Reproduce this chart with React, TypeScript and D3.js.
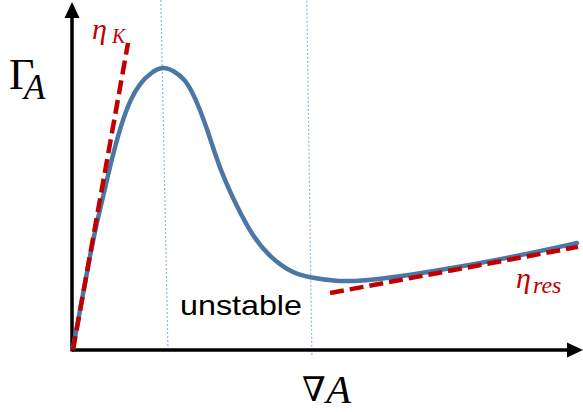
import React, { useRef, useEffect } from "react";
import * as d3 from "d3";

// flow curve (x: gradient, y: stress), both on a 0..100 scale
const curveX = [0, 1.78, 3.37, 4.75, 5.94, 7.72, 9.5, 11.29, 13.27, 15.45, 17.82, 20.0, 22.18, 24.16, 26.53, 29.11, 32.48, 35.64, 39.01, 42.97, 46.93, 52.87, 57.43, 64.75, 74.06, 87.13, 99.8];
const curveY = [0.58, 14.49, 27.54, 37.1, 44.35, 55.65, 65.22, 72.46, 77.39, 80.43, 82.3, 80.87, 78.55, 73.33, 64.35, 52.17, 41.45, 32.75, 26.96, 22.61, 20.9, 19.8, 20.1, 21.3, 23.48, 26.96, 31.01];

// the two asymptote lines (start / end points)
const etaKX = [0, 10.9];
const etaKY = [0, 89.0];
const etaResX = [50.9, 100];
const etaResY = [16.5, 29.9];

// bounds of the unstable region (bottom x, top x)
const boundBottom = [18.8, 47.3];
const boundTop = [17.4, 46.3];

const unstableLabel = "unstable";

function App() {
    const svgRef = useRef(null);
    useEffect(() => {
        const width = 583,
            height = 412;
        const svg = d3.select(svgRef.current)
            .append("svg")
            .attr("width", width)
            .attr("height", height)
            .style("position", "absolute")
            .style("left", 0)
            .style("top", 0)
            .style("background", "#fff");

        const x = d3.scaleLinear().domain([0, 100]).range([73, 578]);
        const y = d3.scaleLinear().domain([0, 100]).range([350, 5]);

        const red = "#c00000";
        const blue = "#4a77a5";

        // dotted boundaries
        svg.selectAll("line.bound")
            .data(boundBottom)
            .enter()
            .append("line")
            .attr("x1", (d) => x(d))
            .attr("y1", (d, i) => y(i === 0 ? 0 : -1.4))
            .attr("x2", (d, i) => x(boundTop[i]))
            .attr("y2", y(101.5))
            .attr("stroke", "#8db9e2")
            .attr("stroke-width", 1.2)
            .attr("stroke-dasharray", "2,2");

        // axes with arrowheads
        svg.append("line")
            .attr("x1", x(0) - 1).attr("y1", y(0))
            .attr("x2", 570).attr("y2", y(0))
            .attr("stroke", "#000").attr("stroke-width", 3.5);
        svg.append("path")
            .attr("d", `M583,${y(0)} L567,${y(0) - 7.5} L567,${y(0) + 7.5} Z`)
            .attr("fill", "#000");
        svg.append("line")
            .attr("x1", x(0) - 1).attr("y1", y(0) + 1.5)
            .attr("x2", x(0) - 1).attr("y2", 15)
            .attr("stroke", "#000").attr("stroke-width", 3.5);
        svg.append("path")
            .attr("d", `M${x(0) - 1},2 L${x(0) - 8.5},18 L${x(0) + 6.5},18 Z`)
            .attr("fill", "#000");

        // smoothed through the read-off points
        const line = d3.line()
            .x((d) => x(d[0]))
            .y((d) => y(d[1]))
            .curve(d3.curveBasis);

        svg.append("path")
            .datum(curveX.map((v, i) => [v, curveY[i]]))
            .attr("d", line)
            .attr("fill", "none")
            .attr("stroke", blue)
            .attr("stroke-width", 4.5)
            .attr("stroke-linecap", "round");

        const straight = d3.line().x((d) => x(d[0])).y((d) => y(d[1]));
        svg.append("path")
            .datum(etaKX.map((v, i) => [v, etaKY[i]]))
            .attr("d", straight)
            .attr("fill", "none")
            .attr("stroke", red)
            .attr("stroke-width", 4.5)
            .attr("stroke-dasharray", "14,6");
        svg.append("path")
            .datum(etaResX.map((v, i) => [v, etaResY[i]]))
            .attr("d", straight)
            .attr("fill", "none")
            .attr("stroke", red)
            .attr("stroke-width", 4.5)
            .attr("stroke-dasharray", "14,6");

        // labels
        const serif = "'Liberation Serif', 'DejaVu Serif', serif";
        const g = svg.append("text").attr("x", 9).attr("y", 89)
            .attr("font-family", serif).attr("fill", "#000");
        g.append("tspan").attr("font-size", 44).text("Γ");
        g.append("tspan").attr("x", 24).attr("y", 99).attr("font-size", 35)
            .attr("font-style", "italic").text("A");

        const k = svg.append("text").attr("x", 92).attr("y", 39)
            .attr("font-family", serif).attr("fill", red).attr("font-style", "italic");
        k.append("tspan").attr("font-size", 30).text("η");
        k.append("tspan").attr("x", 112).attr("y", 43).attr("font-size", 20).text("K");

        const r = svg.append("text").attr("x", 516).attr("y", 288)
            .attr("font-family", serif).attr("fill", red).attr("font-style", "italic");
        r.append("tspan").attr("font-size", 30).text("η");
        r.append("tspan").attr("x", 533).attr("y", 293).attr("font-size", 24).text("res");

        svg.append("text")
            .attr("x", 180).attr("y", 315)
            .attr("font-family", "'Liberation Sans', Arial, sans-serif")
            .attr("font-size", 28)
            .attr("textLength", 122)
            .attr("lengthAdjust", "spacingAndGlyphs")
            .attr("fill", "#000")
            .text(unstableLabel);

        const n = svg.append("text").attr("x", 302).attr("y", 401)
            .attr("font-style", "italic").attr("fill", "#000");
        n.append("tspan").attr("font-family", "'DejaVu Serif', serif")
            .attr("font-size", 34).attr("font-weight", 300).text("∇");
        n.append("tspan").attr("x", 326).attr("y", 403)
            .attr("font-family", serif).attr("font-size", 41).text("A");

        return () => {
            d3.select(svgRef.current).selectAll("*").remove();
        };
    }, []);
    return <div ref={svgRef}></div>;
}

export default App;
